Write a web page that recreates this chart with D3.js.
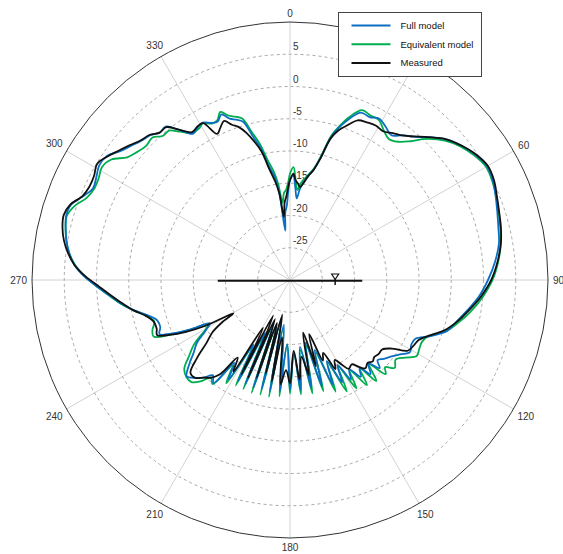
<!DOCTYPE html>
<html>
<head>
<meta charset="utf-8">
<script src="https://cdn.jsdelivr.net/npm/d3@7"></script>
<style>
  html, body { margin: 0; padding: 0; background: #fff; }
  svg { display: block; font-family: "Liberation Sans", Arial, sans-serif; }
</style>
</head>
<body>
<svg id="chart" width="563" height="554"></svg>
<script>
// Azimuth (degrees, clockwise from top) shared by all three patterns
const angles = [
  0, 1.8, 3.2, 4.7, 6.2, 8, 10, 12, 14, 16, 18, 20, 23, 26, 29, 32, 35, 38, 41, 44,
  48, 52, 56, 60, 64, 68, 72, 76, 80, 85, 90, 95, 100, 104, 108, 112, 115, 118, 121, 124,
  127, 130, 132.5, 134.5, 136.8, 139.5, 141.6, 143.8, 146.5, 148.5, 150.8, 153, 155.5, 157.8, 160.5, 163.3,
  166, 168.8, 171.5, 174.5, 177, 180, 182.5, 185.2, 187.8, 190.2, 192.5, 194.5, 196.8, 198.8,
  201, 203.2, 205.3, 207.2, 209.5, 211.7, 214, 216.6, 219, 221.5, 224, 227, 230, 233, 236, 238,
  239.5, 241.6, 243.5, 245.5, 247.5, 250, 253, 256, 259, 262, 265, 268, 271, 274, 277, 280,
  283, 286, 289, 292, 295, 298, 301, 304, 307, 310, 313, 316, 318.5, 321, 323.5, 326.5, 329, 331,
  333.5, 335.5, 337.5, 339.5, 341.5, 343.5, 345.5, 347.5, 349.5, 351.5, 353, 354.5, 356, 357.5, 359
];

// Gain in dB
const fullModel = [
  -14.5, -13.8, -15.5, -17.3, -15.8, -14.6, -13.6, -12.6, -10.6, -7.0, -5.0, -3.5, -1.8, -1.9, -1.4, -2.0, -2.6, -1.5, -0.6, 0.8,
  2.6, 3.8, 4.7, 5.3, 5.0, 4.4, 3.8, 3.3, 2.9, 1.9, 0.7, -0.6, -2.2, -3.4, -4.4, -6.7, -8.5, -8.7, -8.3, -9.4,
  -10.3, -11.0, -11.6, -10.5, -12.2, -10.8, -12.6, -11.4, -13.4, -11.9, -14.9, -12.2, -16.2, -12.5, -18.5, -12.8,
  -20.0, -12.9, -19.5, -12.9, -18.6, -13.0, -20.0, -12.7, -23.0, -12.5, -24.0, -12.5, -23.0, -12.3,
  -22.5, -12.4, -21.0, -12.4, -18.5, -11.9, -14.5, -10.1, -11.0, -9.8, -8.9, -8.1, -9.6, -11.3, -12.6, -14.1,
  -15.0, -15.9, -13.0, -10.0, -8.1, -8.6, -8.5, -7.3, -5.4, -3.6, -2.0, -0.1, 1.9, 3.5, 4.5, 5.2,
  5.7, 6.1, 5.9, 4.6, 3.7, 4.0, 4.5, 4.3, 3.1, 2.3, 1.6, 1.2, 0.5, 0.6, -1.0, -2.8, -2.3, -2.1,
  -2.8, -3.0, -2.2, -3.3, -3.8, -4.4, -7.0, -9.1, -12.0, -13.8, -16.5, -22.3, -19.5, -18.5, -16.0
];

const equivalentModel = [
  -13.5, -12.5, -14.5, -16.0, -15.0, -14.2, -13.4, -12.4, -10.3, -6.7, -4.8, -3.1, -1.4, -1.6, -1.6, -2.6, -3.3, -2.8, -1.5, 0.4,
  2.3, 3.6, 4.5, 5.1, 4.9, 4.5, 4.0, 3.6, 3.2, 2.4, 1.4, 0.0, -1.6, -3.0, -4.5, -6.8, -7.4, -7.3, -7.1, -8.5,
  -9.5, -8.8, -10.0, -9.2, -12.0, -9.4, -12.5, -9.8, -13.2, -10.3, -14.6, -10.6, -16.0, -11.3, -18.0, -12.0,
  -19.5, -12.1, -19.0, -12.2, -18.5, -12.4, -20.0, -11.9, -22.5, -11.6, -23.5, -11.6, -22.5, -11.5,
  -22.0, -11.6, -20.5, -11.6, -18.0, -11.2, -14.0, -9.9, -10.5, -9.0, -8.0, -8.0, -8.6, -10.4, -12.0, -13.6,
  -14.8, -15.6, -12.8, -9.5, -7.1, -7.3, -8.0, -7.0, -5.3, -3.5, -1.9, -0.1, 1.8, 3.4, 4.5, 5.2,
  5.7, 6.0, 5.3, 4.0, 3.5, 3.6, 4.0, 3.4, 1.6, 0.9, 0.5, 0.7, -0.2, -0.2, -1.4, -2.6, -2.6, -2.2,
  -2.9, -2.8, -1.8, -2.8, -3.3, -3.9, -6.3, -8.4, -11.2, -13.0, -15.0, -18.0, -16.5, -16.0, -14.8
];

const measured = [
  -14.5, -13.5, -14.5, -15.0, -15.5, -14.8, -13.6, -12.6, -10.6, -7.2, -5.6, -4.6, -3.1, -2.8, -2.6, -2.8, -2.2, -1.6, -0.5, 0.8,
  2.6, 3.8, 4.8, 5.4, 5.2, 4.6, 4.1, 3.7, 3.2, 2.3, 1.2, -0.3, -2.0, -3.3, -4.8, -6.9, -8.0, -8.3, -8.7, -11.0,
  -12.1, -12.1, -12.3, -12.0, -12.4, -12.0, -12.8, -13.8, -13.5, -14.6, -15.8, -14.5, -17.6, -16.5, -21.1, -16.0,
  -21.6, -15.0, -18.0, -14.5, -19.0, -14.0, -16.0, -13.8, -21.0, -14.0, -24.5, -15.0, -23.0, -14.0,
  -23.5, -13.5, -23.9, -13.5, -21.5, -13.3, -15.5, -11.8, -10.5, -9.8, -8.9, -8.9, -11.2, -13.8, -15.5, -17.5,
  -19.8, -15.0, -12.0, -9.5, -7.7, -8.0, -7.9, -7.0, -5.3, -3.8, -2.2, -0.4, 1.7, 3.5, 4.7, 5.6,
  6.2, 6.5, 6.0, 4.7, 4.3, 4.4, 4.9, 4.2, 3.3, 2.5, 1.7, 1.3, 0.5, 0.5, -1.0, -2.5, -2.2, -2.2,
  -4.7, -4.0, -3.3, -4.3, -5.0, -6.2, -7.8, -9.6, -12.6, -14.6, -16.5, -20.2, -18.0, -17.0, -15.5
];

const seriesNames = ["Full model", "Equivalent model", "Measured"];
const seriesValues = [fullModel, equivalentModel, measured];
const seriesColors = ["#0a6fc2", "#00ad4f", "#111111"];

const ringLevels = [-25, -20, -15, -10, -5, 0, 5];
const angleTicks = [0, 30, 60, 90, 120, 150, 180, 210, 240, 270, 300, 330];
// the 30° label sits under the legend box, so it is left out
const angleLabels = [0, 60, 90, 120, 150, 180, 210, 240, 270, 300, 330];

// ---- layout ----
const cx = 290, cy = 280, R = 258;
const svg = d3.select("#chart");
const g = svg.append("g").attr("transform", `translate(${cx},${cy})`);

const rScale = d3.scaleLinear().domain([-30, 10]).range([0, R]).clamp(true);
const rad = a => a * Math.PI / 180;

// spokes
g.selectAll("line.spoke").data(angleTicks).join("line")
  .attr("class", "spoke")
  .attr("x1", 0).attr("y1", 0)
  .attr("x2", a => R * Math.sin(rad(a)))
  .attr("y2", a => -R * Math.cos(rad(a)))
  .attr("stroke", "#d2d2d2").attr("stroke-width", 1);

// dashed rings
g.selectAll("circle.ring").data(ringLevels).join("circle")
  .attr("class", "ring")
  .attr("r", d => rScale(d))
  .attr("fill", "none")
  .attr("stroke", "#a8a8a8").attr("stroke-width", 1)
  .attr("stroke-dasharray", "3,3");

// outer boundary
g.append("circle").attr("r", R)
  .attr("fill", "none").attr("stroke", "#333").attr("stroke-width", 1);

// radial tick labels along the 0° spoke
g.selectAll("text.rlab").data(ringLevels).join("text")
  .attr("class", "rlab")
  .attr("x", 3)
  .attr("y", d => -rScale(d) - 4)
  .attr("font-size", 10)
  .attr("fill", "#333")
  .text(d => d);

// angular labels
const aLab = g.selectAll("text.alab").data(angleLabels).join("text")
  .attr("class", "alab")
  .attr("font-size", 10)
  .attr("fill", "#333")
  .attr("text-anchor", "middle")
  .attr("dy", "0.35em")
  .text(d => d);
aLab.each(function(a) {
  const w = this.getComputedTextLength() / 2, h = 4;
  const s = Math.sin(rad(a)), c = Math.cos(rad(a));
  const rr = R + 5 + w * Math.abs(s) + h * Math.abs(c);
  d3.select(this).attr("x", rr * s).attr("y", -rr * c);
});

// antenna boom and probe marker
const boomLevel = -18.8, probeLevel = -23.0;
g.append("line")
  .attr("x1", -rScale(boomLevel)).attr("x2", rScale(boomLevel))
  .attr("y1", 0.7).attr("y2", 0.7)
  .attr("stroke", "#111").attr("stroke-width", 2);
const px = rScale(probeLevel);
g.append("path")
  .attr("d", `M${px - 3.5},-6 L${px + 3.5},-6 L${px},-0.5 Z`)
  .attr("fill", "#fff").attr("stroke", "#111").attr("stroke-width", 1.2);
g.append("line")
  .attr("x1", px).attr("x2", px).attr("y1", -1).attr("y2", 5)
  .attr("stroke", "#111").attr("stroke-width", 1.5);

// patterns
const radial = d3.lineRadial()
  .angle(d => rad(d[0]))
  .radius(d => rScale(d[1]))
  .curve(d3.curveCatmullRomClosed.alpha(0.5));

const drawOrder = [1, 0, 2];
drawOrder.forEach(i => {
  const pts = angles.map((a, k) => [a, seriesValues[i][k]]);
  g.append("path")
    .datum(pts)
    .attr("d", radial)
    .attr("fill", "none")
    .attr("stroke", seriesColors[i])
    .attr("stroke-width", 1.8)
    .attr("stroke-linejoin", "round");
});

// legend
const lg = svg.append("g").attr("transform", "translate(338.5,12.5)");
lg.append("rect").attr("width", 143).attr("height", 64)
  .attr("fill", "#fff").attr("stroke", "#444").attr("stroke-width", 1);
seriesNames.forEach((name, i) => {
  const y = 13 + i * 18.7;
  lg.append("line").attr("x1", 13).attr("x2", 52).attr("y1", y).attr("y2", y)
    .attr("stroke", seriesColors[i]).attr("stroke-width", 2);
  lg.append("text").attr("x", 62).attr("y", y).attr("dy", "0.35em")
    .attr("font-size", 9.5).attr("fill", "#111").text(name);
});
</script>
</body>
</html>
